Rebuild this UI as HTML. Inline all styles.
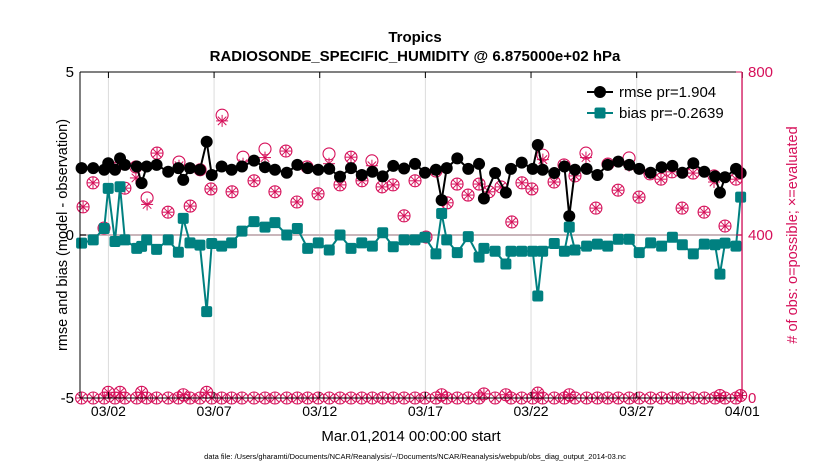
<!DOCTYPE html>
<html><head><meta charset="utf-8"><style>
body{margin:0;background:#fff;}
svg{display:block;font-family:"Liberation Sans",sans-serif;}
</style></head><body>
<svg id="chart" width="830" height="470" viewBox="0 0 830 470" xmlns="http://www.w3.org/2000/svg">
<g id="grid"></g>
<g id="marks"></g>
<g id="axes"></g>
<text x="415" y="42" text-anchor="middle" font-size="15" font-weight="bold">Tropics</text>
<text x="415" y="61" text-anchor="middle" font-size="15" font-weight="bold">RADIOSONDE_SPECIFIC_HUMIDITY @ 6.875000e+02 hPa</text>
<text transform="translate(67,235) rotate(-90)" text-anchor="middle" font-size="14.5">rmse and bias (model - observation)</text>
<text transform="translate(797,235) rotate(-90)" text-anchor="middle" font-size="14.5" fill="#d6105a"># of obs: o=possible; ×=evaluated</text>
<text x="411" y="441" text-anchor="middle" font-size="15">Mar.01,2014 00:00:00 start</text>
<text x="415" y="459" text-anchor="middle" font-size="7.5">data file: /Users/gharamti/Documents/NCAR/Reanalysis/~/Documents/NCAR/Reanalysis/webpub/obs_diag_output_2014-03.nc</text>
<g>
<line x1="587" y1="92" x2="613" y2="92" stroke="#000" stroke-width="2"/>
<circle cx="600" cy="92" r="6" fill="#000"/>
<text x="619" y="97" font-size="15">rmse pr=1.904</text>
<line x1="587" y1="113" x2="613" y2="113" stroke="#008080" stroke-width="2"/>
<rect x="594.5" y="107.5" width="11" height="11" rx="2" fill="#008080"/>
<text x="619" y="118" font-size="15">bias pr=-0.2639</text>
</g>
</svg>
<script>
const times=[-0.27,0.28,0.80,0.99,1.31,1.55,1.78,2.34,2.57,2.81,3.28,3.83,4.31,4.54,4.86,5.33,5.65,5.89,6.36,6.83,7.32,7.89,8.41,8.88,9.44,9.94,10.43,10.93,11.45,11.96,12.48,12.99,13.49,13.98,14.48,14.99,15.51,15.98,16.50,16.77,17.01,17.51,18.03,18.54,18.77,19.30,19.81,20.05,20.56,21.08,21.32,21.55,22.10,22.58,22.81,23.08,23.63,24.14,24.63,25.13,25.65,26.12,26.66,27.18,27.69,28.16,28.68,29.20,29.71,29.94,30.18,30.70,30.92];
const rmse=[2.05,2.05,2.0,2.2,2.0,2.35,2.15,2.1,1.59,2.1,2.15,1.94,2.05,1.69,2.05,2.0,2.86,1.84,2.1,2.0,2.1,2.28,2.08,2.0,1.91,2.15,2.05,2.0,2.03,1.79,2.05,1.84,1.94,1.8,2.12,2.04,2.18,1.91,2.0,1.07,2.05,2.35,2.03,2.18,1.12,1.9,1.3,2.03,2.22,2.03,2.76,2.0,1.9,2.1,0.58,2.0,2.03,1.84,2.15,2.25,2.15,2.03,1.91,2.08,2.12,1.91,2.2,1.94,1.8,1.3,1.77,2.03,1.9];
const bias=[-0.25,-0.15,0.2,1.43,-0.2,1.48,-0.15,-0.41,-0.35,-0.15,-0.44,-0.15,-0.53,0.51,-0.24,-0.31,-2.35,-0.26,-0.34,-0.24,0.12,0.41,0.24,0.38,0.0,0.2,-0.41,-0.24,-0.46,0.0,-0.41,-0.24,-0.34,0.07,-0.36,-0.15,-0.15,-0.07,-0.58,0.66,-0.15,-0.54,-0.05,-0.68,-0.41,-0.5,-0.89,-0.5,-0.5,-0.5,-1.87,-0.5,-0.26,-0.5,0.24,-0.46,-0.34,-0.28,-0.34,-0.13,-0.13,-0.54,-0.24,-0.34,-0.07,-0.3,-0.58,-0.28,-0.3,-1.2,-0.25,-0.34,1.16];
const lowCounts=[0,0,0,14,0,14,0,0,14,0,0,0,0,8,0,0,14,0,0,0,0,0,0,0,0,0,0,0,0,0,0,0,0,0,0,0,0,0,0,8,0,0,0,0,10,0,8,0,0,0,12,0,0,0,8,0,0,0,0,0,0,0,0,0,0,0,0,0,0,6,0,0,6];
const obsTimes=[-0.20,0.27,0.79,1.31,1.78,2.30,2.83,3.30,3.82,4.34,4.87,5.34,5.85,6.38,6.85,7.37,7.89,8.41,8.88,9.40,9.92,10.40,10.92,11.44,11.96,12.48,13.00,13.47,13.95,14.47,14.99,15.51,16.03,16.50,17.03,17.50,18.02,18.54,19.01,19.58,20.09,20.57,21.04,21.56,22.09,22.56,23.08,23.60,24.07,24.64,25.12,25.64,26.11,26.63,27.15,27.67,28.15,28.67,29.19,29.66,30.18,30.70];
const possible=[469,528,417,564,515,567,491,601,456,579,471,560,513,694,506,591,533,611,506,606,481,567,501,599,523,591,533,582,518,523,447,533,395,557,479,525,498,525,506,518,432,528,513,596,530,572,545,601,466,574,510,589,493,550,537,555,466,552,456,545,422,537];
const evaluated=[469,528,417,564,515,540,475,601,456,570,471,560,513,680,506,575,533,590,506,606,481,567,501,575,523,591,533,570,518,523,447,533,395,557,479,525,498,525,506,518,432,528,513,585,530,572,545,590,466,574,510,570,493,550,537,555,466,552,456,530,422,537];
const xTickDays=[1,6,11,16,21,26,31];
const xTickLabels=["03/02","03/07","03/12","03/17","03/22","03/27","04/01"];
const yTicks=[-5,0,5];
const rTicks=[0,400,800];

const L=80,R=742,T=72,B=398;
const X=t=>87.3+t*21.13;
const Y=v=>235-v*(B-T)/10;
const YR=c=>B-c*(B-T)/800;
const NS="http://www.w3.org/2000/svg";
function mk(tag,parent,attrs){const e=document.createElementNS(NS,tag);for(const k in attrs)e.setAttribute(k,attrs[k]);parent.appendChild(e);return e;}
const grid=document.getElementById('grid'),marks=document.getElementById('marks'),axes=document.getElementById('axes');
const PINK="#d6105a",TEAL="#008080";

xTickDays.forEach((d,i)=>{
  const gl=mk('line',grid,{x1:X(d),x2:X(d),y1:T,y2:B,stroke:'#dcdcdc','stroke-width':1});
  
  
  mk('line',axes,{x1:X(d),x2:X(d),y1:B,y2:B-6,stroke:'#000'});
  mk('line',axes,{x1:X(d),x2:X(d),y1:T,y2:T+6,stroke:'#000'});
  const tx=mk('text',axes,{x:X(d),y:416,'text-anchor':'middle','font-size':14});
  tx.textContent=xTickLabels[i];
  
  
});
const zl=mk('line',grid,{x1:L,x2:R,y1:Y(0),y2:Y(0),stroke:'#c9b6bb','stroke-width':2});



function obsMark(x,y,circle,ast,name){
  const g=mk('g',marks,{});
  
  
  if(circle) mk('circle',g,{cx:x,cy:y,r:6,fill:'none',stroke:PINK,'stroke-width':1.1});
  if(ast!==null){const r=6;
    for(let a=0;a<4;a++){const an=a*Math.PI/4;
      mk('line',g,{x1:x-r*Math.cos(an),y1:ast-r*Math.sin(an),x2:x+r*Math.cos(an),y2:ast+r*Math.sin(an),stroke:PINK,'stroke-width':1});}
  }
}
times.forEach((t,i)=>obsMark(X(t),YR(lowCounts[i]),true,YR(lowCounts[i]),'obs-low-point'));
obsTimes.forEach((t,i)=>obsMark(X(t),YR(possible[i]),true,YR(evaluated[i]),'obs-count-point'));

const rl=mk('polyline',marks,{points:times.map((t,i)=>X(t)+','+Y(rmse[i])).join(' '),fill:'none',stroke:'#000','stroke-width':2});


times.forEach((t,i)=>{const c=mk('circle',marks,{cx:X(t),cy:Y(rmse[i]),r:6,fill:'#000'});
  
  });
const bl=mk('polyline',marks,{points:times.map((t,i)=>X(t)+','+Y(bias[i])).join(' '),fill:'none',stroke:TEAL,'stroke-width':2});


times.forEach((t,i)=>{const s=mk('rect',marks,{x:X(t)-5.5,y:Y(bias[i])-5.5,width:11,height:11,rx:2,fill:TEAL});
  
  });

mk('line',axes,{x1:L,x2:L,y1:T,y2:B,stroke:'#000'});
mk('line',axes,{x1:L,x2:R,y1:B,y2:B,stroke:'#000'});
mk('line',axes,{x1:L,x2:R,y1:T,y2:T,stroke:'#000'});
mk('line',axes,{x1:R,x2:R,y1:T,y2:B,stroke:PINK,'stroke-width':1.3});
yTicks.forEach(v=>{
  mk('line',axes,{x1:L,x2:L+6,y1:Y(v),y2:Y(v),stroke:'#000'});
  const tx=mk('text',axes,{x:L-6,y:Y(v)+5,'text-anchor':'end','font-size':15});
  tx.textContent=v;
  
  
});
rTicks.forEach(v=>{
  mk('line',axes,{x1:R-6,x2:R,y1:YR(v),y2:YR(v),stroke:PINK});
  const tx=mk('text',axes,{x:R+6,y:YR(v)+5,'font-size':15,fill:PINK});
  tx.textContent=v;
  
  
});
</script>
</body></html>
